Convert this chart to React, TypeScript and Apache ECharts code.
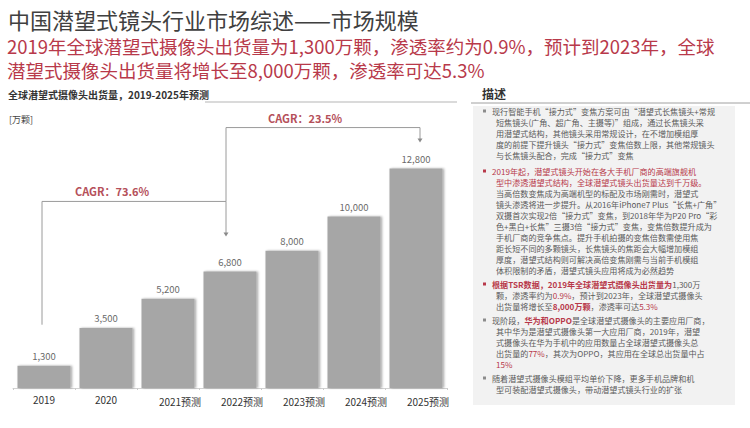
import React, { useEffect, useRef } from 'react';
import * as echarts from 'echarts';

const categories = ['2019', '2020', '2021预测', '2022预测', '2023预测', '2024预测', '2025预测'];
const shipments = [1300, 3500, 5200, 6800, 8000, 10000, 12800];
const cagrLabels = ['CAGR：73.6%', 'CAGR：23.5%'];
const cagrSpans = [[0, 3], [3, 6]];
const titleText = '中国潜望式镜头行业市场综述——市场规模';
const subtitleLines = [
  '2019年全球潜望式摄像头出货量为1,300万颗，渗透率约为0.9%，预计到2023年，全球',
  '潜望式摄像头出货量将增长至8,000万颗，渗透率可达5.3%',
];
const chartHeader = '全球潜望式摄像头出货量，2019-2025年预测';
const unitLabel = '[万颗]';
const panelTitle = '描述';

// each item: bullet colour key, then lines; each line: segments [style, text]
const descItems: { bullet: string; lines: [string, string][][] }[] = [
  {
    bullet: 'g',
    lines: [
      [['n', '现行智能手机“接力式”变焦方案可由“潜望式长焦镜头+常规']],
      [['n', '短焦镜头(广角、超广角、主摄等)”组成，通过长焦镜头采']],
      [['n', '用潜望式结构，其他镜头采用常规设计，在不增加模组厚']],
      [['n', '度的前提下提升镜头“接力式”变焦倍数上限，其他常规镜头']],
      [['n', '与长焦镜头配合，完成“接力式”变焦']],
    ],
  },
  {
    bullet: 'r',
    lines: [
      [['r', '2019年起，潜望式镜头开始在各大手机厂商的高端旗舰机']],
      [['r', '型中渗透潜望式结构，全球潜望式镜头出货量达到千万级。']],
      [['n', '当高倍数变焦成为高端机型的标配及市场刚需时，潜望式']],
      [['n', '镜头渗透将进一步提升。从2016年iPhone7 Plus“长焦+广角”']],
      [['n', '双摄首次实现2倍“接力式”变焦，到2018年华为P20 Pro“彩']],
      [['n', '色+黑白+长焦”三摄3倍“接力式”变焦，变焦倍数提升成为']],
      [['n', '手机厂商的竞争焦点。提升手机拍摄的变焦倍数需使用焦']],
      [['n', '距长短不同的多颗镜头，长焦镜头的焦距会大幅增加模组']],
      [['n', '厚度，潜望式结构则可解决高倍变焦刚需与当前手机模组']],
      [['n', '体积限制的矛盾，潜望式镜头应用将成为必然趋势']],
    ],
  },
  {
    bullet: 'r',
    lines: [
      [['rb', '根据TSR数据，2019年全球潜望式摄像头出货量为'], ['n', '1,300万']],
      [['n', '颗，渗透率约为'], ['r', '0.9%'], ['n', '，预计到2023年，全球潜望式摄像头']],
      [['n', '出货量将增长至'], ['rb', '8,000万颗'], ['n', '，渗透率可达'], ['r', '5.3%']],
    ],
  },
  {
    bullet: 'g',
    lines: [
      [['n', '现阶段，'], ['rb', '华为和OPPO'], ['n', '是全球潜望式摄像头的主要应用厂商，']],
      [['n', '其中华为是潜望式摄像头第一大应用厂商，2019年，潜望']],
      [['n', '式摄像头在华为手机中的应用数量占全球潜望式摄像头总']],
      [['n', '出货量的'], ['r', '77%'], ['n', '，其次为OPPO，其应用在全球总出货量中占']],
      [['r', '15%']],
    ],
  },
  {
    bullet: 'g',
    lines: [
      [['n', '随着潜望式摄像头模组平均单价下降，更多手机品牌和机']],
      [['n', '型可装配潜望式摄像头，带动潜望式镜头行业的扩张']],
    ],
  },
];

const FONT = '"Noto Sans CJK SC", "Noto Sans", sans-serif';
const RED = '#b8394a';
const GRAY_TXT = '#5a5a5a';

export default function App() {
  const ref = useRef<HTMLDivElement>(null);
  useEffect(() => {
    if (!ref.current) return;
    const chart = echarts.init(ref.current, undefined, { renderer: 'svg' });
    chart.setOption({
      animation: false,
      backgroundColor: '#ffffff',
      textStyle: { fontFamily: FONT },
      grid: { left: 13, right: 303, top: 148, bottom: 40, containLabel: false },
      xAxis: {
        type: 'category',
        data: categories,
        axisLine: { lineStyle: { color: '#d2d2d2', width: 1 } },
        axisTick: { show: true, alignWithLabel: false, length: 2, lineStyle: { color: '#cccccc' } },
        axisLabel: {
          interval: 0,
          hideOverlap: false,
          color: '#333333',
          fontSize: 10,
          margin: 6,
          fontFamily: FONT,
          formatter: (v: string) => (v.indexOf('预测') >= 0 ? `{f|${v}}` : v),
          rich: { f: { fontSize: 10, color: '#333333', padding: [2, 0, 0, 24], fontFamily: FONT } },
        },
      },
      yAxis: { type: 'value', min: 0, max: 14000, show: false, splitLine: { show: false } },
      series: [
        {
          type: 'bar',
          data: shipments,
          barWidth: 53,
          itemStyle: {
            color: '#a6a6a6',
            shadowColor: 'rgba(0,0,0,0.35)',
            shadowBlur: 2,
            shadowOffsetX: 1.5,
            shadowOffsetY: 0,
          },
          label: {
            show: true,
            position: 'top',
            distance: 5,
            color: '#6a6a6a',
            fontSize: 9.5,
            fontFamily: FONT,
            formatter: (p: any) => Number(p.value).toLocaleString('en-US'),
          },
        },
      ],
    });

    const pt = (i: number) => chart.convertToPixel({ seriesIndex: 0 }, [i, shipments[i]]) as number[];
    const [a0, a1] = cagrSpans[0];
    const [, b1] = cagrSpans[1];
    const pA0 = pt(a0), pA1 = pt(a1), pB1 = pt(b1);
    const level1 = pA1[1] - 70;
    const xL = pA0[0] - 2;
    const xM = pA1[0] - 4;
    const xR = pB1[0] + 4;
    const tipA = pA1[1] - 35;
    const level2 = pB1[1] - 41;
    const tipB = pB1[1] - 26;
    const lineStyle = { stroke: '#9a9a9a', lineWidth: 1, fill: null };
    const arrow = (x: number, y: number) => ({
      type: 'polygon',
      shape: { points: [[x - 2.5, y - 4], [x + 2.5, y - 4], [x, y]] },
      style: { fill: '#8a8a8a' },
    });
    const pMidA = pt(1), pMidB = pt(4);

    const graphics: any[] = [
      { type: 'text', x: 8, y: 19, style: { text: titleText, fontSize: 22, fontFamily: FONT, fill: '#404040', verticalAlign: 'middle' } },
      ...subtitleLines.map((t, i) => ({
        type: 'text', x: 7, y: 46 + i * 24,
        style: { text: t, fontSize: 18.5, fontFamily: FONT, fill: RED, verticalAlign: 'middle' },
      })),
      { type: 'text', x: 8, y: 94, style: { text: chartHeader, fontSize: 10, fontWeight: 'bold', fontFamily: FONT, fill: '#333333', verticalAlign: 'middle' } },
      { type: 'line', shape: { x1: 205, y1: 102, x2: 457, y2: 102 }, style: { stroke: '#b5b5b5', lineWidth: 1 } },
      { type: 'text', x: 9, y: 119, style: { text: unitLabel, fontSize: 9, fontFamily: FONT, fill: '#444444', verticalAlign: 'middle' } },
      // CAGR brackets
      { type: 'polyline', shape: { points: [[xL, pA0[1] - 41], [xL, level1], [xM, level1], [xM, tipA - 3]] }, style: lineStyle },
      arrow(xM, tipA),
      { type: 'polyline', shape: { points: [[xM, level1], [xM, level2], [xR, level2], [xR, tipB - 3]] }, style: lineStyle },
      arrow(xR, tipB),
      { type: 'text', x: pMidA[0] + 6, y: level1 - 10, style: { text: cagrLabels[0], fontSize: 11, fontWeight: 'bold', fontFamily: FONT, fill: '#b5505a', align: 'center', verticalAlign: 'middle' } },
      { type: 'text', x: pMidB[0] + 13, y: level2 - 10, style: { text: cagrLabels[1], fontSize: 11, fontWeight: 'bold', fontFamily: FONT, fill: '#b5505a', align: 'center', verticalAlign: 'middle' } },
      // right panel
      { type: 'text', x: 482, y: 93, style: { text: panelTitle, fontSize: 12, fontWeight: 'bold', fontFamily: FONT, fill: '#333333', verticalAlign: 'middle' } },
      { type: 'line', shape: { x1: 471, y1: 103, x2: 750, y2: 103 }, style: { stroke: '#a0a0a0', lineWidth: 1 } },
      { type: 'rect', shape: { x: 473, y: 106, width: 262, height: 299 }, style: { fill: '#f2f2f2' } },
    ];

    const FS = 8.1;
    const rich = {
      n: { fill: GRAY_TXT, fontSize: FS, fontFamily: FONT },
      r: { fill: RED, fontSize: FS, fontFamily: FONT },
      rb: { fill: RED, fontSize: FS, fontWeight: 'bold', fontFamily: FONT },
    };
    const itemStarts = [111, 171, 284, 320, 378];
    const lh = 11;
    descItems.forEach((item, k) => {
      const y0 = itemStarts[k];
      graphics.push({
        type: 'rect',
        shape: { x: 483, y: y0 - 1.5, width: 3, height: 3 },
        style: { fill: item.bullet === 'r' ? RED : '#8c8c8c' },
      });
      item.lines.forEach((segs, j) => {
        graphics.push({
          type: 'text',
          x: j === 0 ? 492 : 496,
          y: y0 + j * lh,
          style: {
            text: segs.map(([s, t]) => `{${s}|${t}}`).join(''),
            rich,
            fontSize: FS,
            fontFamily: FONT,
            verticalAlign: 'middle',
          },
        });
      });
    });

    chart.setOption({ graphic: graphics });
    return () => chart.dispose();
  }, []);
  return (
    <div
      ref={ref}
      style={{ position: 'fixed', left: 0, top: 0, width: 750, height: 428, background: '#fff' }}
    />
  );
}
